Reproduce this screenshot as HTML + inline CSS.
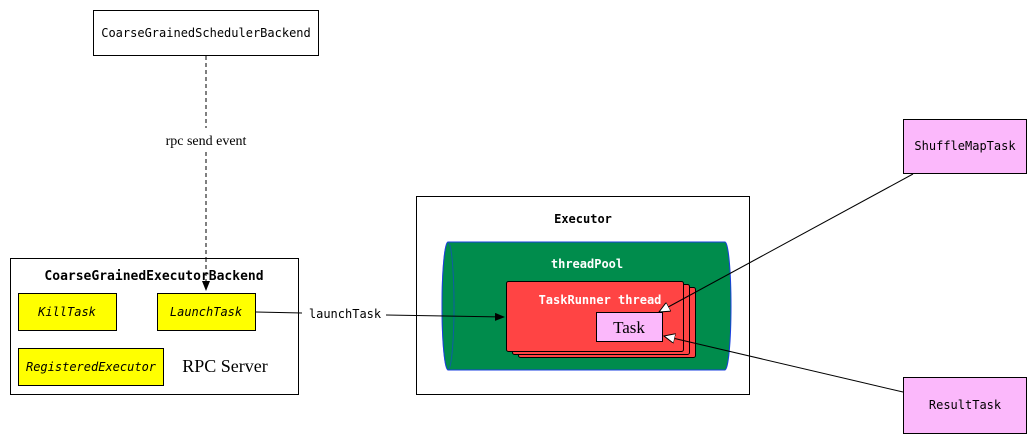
<!DOCTYPE html>
<html><head><style>body{margin:0;background:#fff}</style></head><body>
<svg width="1036" height="442" xmlns="http://www.w3.org/2000/svg">
<defs>
<marker id="fa" markerWidth="10" markerHeight="8" refX="9" refY="4" orient="auto" markerUnits="userSpaceOnUse"><path d="M0,0 L10,4 L0,8 z" fill="#000"/></marker>
<marker id="oa" markerWidth="12" markerHeight="10" refX="11" refY="5" orient="auto" markerUnits="userSpaceOnUse"><path d="M0,0 L11,5 L0,10 z" fill="#fff" stroke="#000"/></marker>
</defs>
<g font-family="'DejaVu Sans Mono','Liberation Mono',monospace" font-size="12">
<rect x="93.5" y="10.5" width="225" height="45" fill="#fff" stroke="#000"/>
<text x="206" y="37" text-anchor="middle">CoarseGrainedSchedulerBackend</text>
<line x1="206" y1="56" x2="206" y2="128" stroke="#000" stroke-dasharray="4,3"/>
<line x1="206" y1="152" x2="206" y2="290" stroke="#000" stroke-dasharray="4,3" marker-end="url(#fa)"/>
<text x="206" y="145" text-anchor="middle" font-family="'Liberation Serif',serif" font-size="14">rpc send event</text>

<rect x="10.5" y="258.5" width="288" height="136" fill="#fff" stroke="#000"/>
<line x1="206" y1="258" x2="206" y2="290" stroke="#000" stroke-dasharray="4,3" marker-end="url(#fa)"/>
<text x="154" y="280" text-anchor="middle" font-weight="bold" font-size="13">CoarseGrainedExecutorBackend</text>
<rect x="18.5" y="293.5" width="98" height="37" fill="#ff0" stroke="#000"/>
<text x="67" y="316" text-anchor="middle" font-style="italic">KillTask</text>
<rect x="157.5" y="293.5" width="98" height="37" fill="#ff0" stroke="#000"/>
<text x="206" y="316" text-anchor="middle" font-style="italic">LaunchTask</text>
<rect x="18.5" y="348.5" width="145" height="37" fill="#ff0" stroke="#000"/>
<text x="91" y="371" text-anchor="middle" font-style="italic">RegisteredExecutor</text>
<text x="225" y="372" text-anchor="middle" font-family="'Liberation Serif',serif" font-size="18">RPC Server</text>

<rect x="416.5" y="196.5" width="333" height="198" fill="#fff" stroke="#000"/>
<text x="583" y="223" text-anchor="middle" font-weight="bold">Executor</text>
<path d="M448,242 L725,242 A6,64 0 0 1 725,370 L448,370 A6,64 0 0 1 448,242 z" fill="#008c4c" stroke="#1a3fe0"/>
<ellipse cx="448" cy="306" rx="6" ry="64" fill="#008c4c" stroke="#1a3fe0" opacity="0.6"/>
<text x="587" y="268" text-anchor="middle" font-weight="bold" fill="#fff">threadPool</text>
<rect x="518.5" y="287.5" width="177" height="70" rx="2" fill="#f44" stroke="#000"/>
<rect x="512.5" y="284.5" width="177" height="70" rx="2" fill="#f44" stroke="#000"/>
<rect x="506.5" y="281.5" width="177" height="70" rx="2" fill="#f44" stroke="#000"/>
<text x="600" y="304" text-anchor="middle" font-weight="bold" fill="#fff">TaskRunner thread</text>
<rect x="596.5" y="312.5" width="66" height="29" fill="#fbb8fb" stroke="#000"/>
<text x="629" y="333" text-anchor="middle" font-family="'Liberation Serif',serif" font-size="17">Task</text>

<line x1="256" y1="312" x2="302" y2="313" stroke="#000"/>
<text x="345" y="318" text-anchor="middle">launchTask</text>
<line x1="386" y1="315" x2="504" y2="317" stroke="#000" marker-end="url(#fa)"/>

<rect x="903.5" y="119.5" width="123" height="54" fill="#fbb8fb" stroke="#000"/>
<text x="965" y="150" text-anchor="middle">ShuffleMapTask</text>
<rect x="903.5" y="377.5" width="123" height="56" fill="#fbb8fb" stroke="#000"/>
<text x="965" y="409" text-anchor="middle">ResultTask</text>
<line x1="913" y1="174" x2="659" y2="312" stroke="#000" marker-end="url(#oa)"/>
<line x1="903" y1="392" x2="664" y2="336" stroke="#000" marker-end="url(#oa)"/>
</g>
</svg>
</body></html>
